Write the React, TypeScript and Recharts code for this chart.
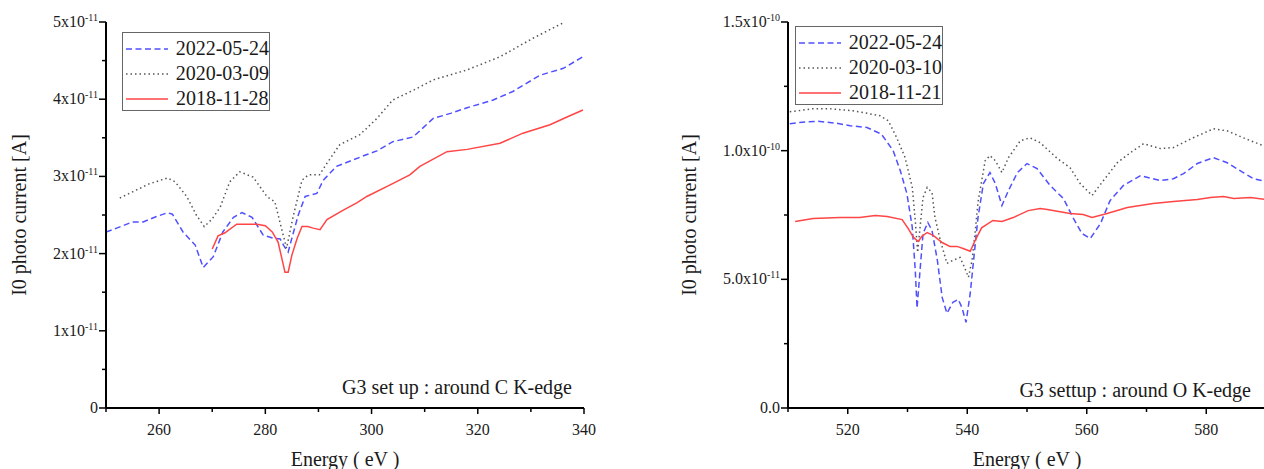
import { LineChart, Line, XAxis, YAxis } from "recharts";

const FONT = "'Liberation Serif', 'Times New Roman', serif";
const INK = "#1a1a1a";

// energy (eV), I0 photo current in units of 1e-11 A
const cBlue: [number, number][] = [
  [250, 2.28], [252, 2.33], [255, 2.41], [257, 2.41], [259.5, 2.48], [261.6, 2.53], [262.5, 2.51],
  [264.5, 2.28], [266.8, 2.11], [268.3, 1.82], [270.2, 1.96], [272, 2.28], [274, 2.47], [275.6, 2.53],
  [277.5, 2.47], [279.6, 2.24], [281.5, 2.2], [282.8, 2.19], [283.5, 2.1], [284.3, 2.02], [285, 2.2],
  [286.2, 2.5], [287.5, 2.74], [289.7, 2.78], [290.9, 2.95], [293.4, 3.13], [296, 3.2], [299, 3.28],
  [301, 3.33], [304, 3.45], [307.8, 3.51], [311.6, 3.75], [315, 3.82], [318, 3.89], [322.9, 3.99],
  [326.6, 4.1], [331.7, 4.31], [336.1, 4.4], [339.8, 4.55],
];
const cGray: [number, number][] = [
  [252.6, 2.72], [255, 2.8], [258, 2.9], [261.6, 2.98], [263, 2.93], [265.2, 2.74], [267, 2.5],
  [268.5, 2.35], [270, 2.45], [271.5, 2.6], [273.3, 2.93], [275.2, 3.06], [277.7, 2.99], [280.3, 2.74],
  [281.8, 2.67], [283.1, 2.31], [284, 2.07], [285.2, 2.47], [286.9, 2.95], [288.1, 3.02], [290.2, 3.02],
  [291.6, 3.17], [294, 3.41], [297.8, 3.54], [301, 3.75], [304, 3.99], [308, 4.12], [311.6, 4.25],
  [318, 4.38], [324.2, 4.55], [330.4, 4.79], [336.1, 4.99],
];
const cRed: [number, number][] = [
  [270, 2.06], [271.1, 2.23], [272.4, 2.27], [274.6, 2.38], [278.4, 2.38], [280, 2.36], [281.3, 2.28],
  [282.4, 2.15], [283.3, 1.88], [283.7, 1.76], [284.3, 1.76], [285, 1.98], [286, 2.2], [286.9, 2.35],
  [288, 2.35], [289, 2.33], [290.3, 2.31], [291.6, 2.44], [294.6, 2.56], [297.3, 2.66], [299.1, 2.74],
  [303.5, 2.89], [307.2, 3.02], [309.1, 3.13], [314.2, 3.32], [318, 3.35], [324.2, 3.43], [328.5, 3.56],
  [333.6, 3.67], [336.8, 3.77], [339.8, 3.86],
];

const oBlue: [number, number][] = [
  [510.3, 11.05], [513, 11.12], [515, 11.14], [518, 11.07], [520.4, 10.97], [523.2, 10.9], [525.6, 10.65],
  [527.6, 10.0], [528.8, 9.22], [529.9, 8.33], [530.8, 7.02], [531.3, 5.35], [531.6, 3.88], [532.1, 5.35],
  [532.6, 6.78], [533.4, 7.21], [534.1, 6.9], [535, 5.74], [535.8, 4.3], [536.6, 3.68], [537.6, 4.11],
  [538.5, 4.22], [539.1, 3.91], [539.8, 3.33], [540.5, 4.46], [541, 5.6], [541.8, 7.4], [542.7, 8.72],
  [543.8, 9.15], [544.7, 8.72], [545.8, 7.87], [546.9, 8.45], [548.4, 9.15], [550, 9.5], [551.7, 9.3],
  [553.9, 8.64], [556.1, 8.14], [557.7, 7.4], [559.2, 6.78], [560.6, 6.59], [562.3, 7.17], [563.9, 8.06],
  [566.1, 8.64], [569, 9.03], [572.3, 8.84], [574.5, 8.91], [576.2, 9.11], [578.5, 9.5], [581.2, 9.73],
  [583.5, 9.53], [586.2, 9.15], [587.9, 8.91], [590, 8.8],
];
const oGray: [number, number][] = [
  [510.3, 11.51], [514.2, 11.63], [517, 11.63], [520.9, 11.55], [525.4, 11.36], [526.8, 11.16],
  [528.2, 10.5], [529.6, 9.73], [530.8, 8.57], [531.3, 7.29], [531.7, 6.05], [532.1, 7.02], [532.6, 8.18],
  [533.3, 8.57], [534.1, 8.37], [534.6, 7.4], [535.5, 6.51], [536.6, 5.62], [537.6, 5.74], [538.8, 5.85],
  [539.6, 5.43], [540.2, 5.08], [540.8, 5.74], [541.3, 6.78], [541.8, 8.0], [543, 9.61], [543.8, 9.81],
  [544.7, 9.61], [545.8, 9.15], [546.9, 9.73], [548.9, 10.39], [550.5, 10.5], [552.2, 10.31],
  [555.1, 9.69], [557.2, 9.34], [558.9, 8.72], [560.9, 8.26], [562.8, 8.84], [565.1, 9.53], [567.3, 9.92],
  [569.5, 10.27], [572.3, 10.08], [574.5, 10.12], [577.8, 10.5], [581.2, 10.85], [583.5, 10.77],
  [586.2, 10.5], [590, 10.15],
];
const oRed: [number, number][] = [
  [511.2, 7.25], [514.2, 7.36], [518.7, 7.4], [522, 7.4], [524.6, 7.48], [526.6, 7.44], [529.1, 7.32],
  [530.1, 6.98], [531, 6.63], [531.8, 6.47], [532.4, 6.67], [533.3, 6.82], [534.3, 6.71], [535.8, 6.43],
  [537.1, 6.28], [538.3, 6.28], [539.3, 6.2], [540.5, 6.09], [541.2, 6.45], [542.4, 7.0], [544.3, 7.29],
  [545.8, 7.25], [547.7, 7.4], [550.2, 7.67], [552.2, 7.75], [553.4, 7.71], [557.2, 7.56], [559.4, 7.52],
  [560.9, 7.4], [563.4, 7.56], [566.8, 7.79], [571.1, 7.95], [574.5, 8.02], [578.5, 8.1], [580.7, 8.18],
  [582.9, 8.22], [584.6, 8.14], [587.4, 8.18], [590, 8.1],
];

const cXTicks = [250, 260, 270, 280, 290, 300, 310, 320, 330, 340];
const cXLabels = [260, 280, 300, 320, 340];
const cYTicks = [0, 0.5, 1, 1.5, 2, 2.5, 3, 3.5, 4, 4.5, 5];
const cYLabels: [number, string, string][] = [
  [0, "0", ""], [1, "1x10", "-11"], [2, "2x10", "-11"], [3, "3x10", "-11"], [4, "4x10", "-11"], [5, "5x10", "-11"],
];

const oXTicks = [510, 520, 530, 540, 550, 560, 570, 580, 590];
const oXLabels = [520, 540, 560, 580];
const oYTicks = [0, 2.5, 5, 7.5, 10, 12.5, 15];
const oYLabels: [number, string, string][] = [
  [0, "0.0", ""], [5, "5.0x10", "-11"], [10, "1.0x10", "-10"], [15, "1.5x10", "-10"],
];

const cNames = ["2022-05-24", "2020-03-09", "2018-11-28"];
const oNames = ["2022-05-24", "2020-03-10", "2018-11-21"];

const styles = [
  { stroke: "#5050ff", dash: "6 3.5" },
  { stroke: "#555555", dash: "1.5 3" },
  { stroke: "#ff4545", dash: undefined as string | undefined },
];

const toRows = (pts: [number, number][]) => pts.map(([e, v]) => ({ e, v }));

function XTick({ x, y, payload, labels }: any) {
  const major = labels.includes(payload.value);
  return (
    <g>
      <line x1={x} x2={x} y1={y} y2={y + (major ? 6 : 4)} stroke="#000" strokeWidth={1.5} />
      {major && (
        <text x={x} y={y + 27} textAnchor="middle" fontSize={16} fill={INK} fontFamily={FONT}>
          {payload.value}
        </text>
      )}
    </g>
  );
}

function YTick({ x, y, payload, labels }: any) {
  const lab = labels.find((l: [number, string, string]) => Math.abs(l[0] - payload.value) < 1e-9);
  return (
    <g>
      <line x1={x - (lab ? 7 : 4)} x2={x} y1={y} y2={y} stroke="#000" strokeWidth={1.5} />
      {lab && (
        <text x={x - 8} y={y + 5} textAnchor="end" fontSize={16} fill={INK} fontFamily={FONT}>
          <tspan>{lab[1]}</tspan>
          {lab[2] && (
            <tspan dy={-6} fontSize={10}>
              {lab[2]}
            </tspan>
          )}
        </text>
      )}
    </g>
  );
}

function Panel(props: {
  left: number;
  yWidth: number;
  right: number;
  series: [number, number][][];
  names: string[];
  xDomain: [number, number];
  xTicks: number[];
  xLabels: number[];
  yDomain: [number, number];
  yTicks: number[];
  yLabels: [number, string, string][];
  legend: { left: number; top: number };
  note: string;
  noteRight: number;
  noteTop: number;
  titleX: number;
}) {
  const W = 600;
  const H = 469;
  const plotCx = props.yWidth + (W - props.yWidth - props.right) / 2;
  return (
    <div style={{ position: "absolute", left: props.left, top: 0, width: W, height: H }}>
      <LineChart width={W} height={H} margin={{ top: 22, right: props.right, bottom: 0, left: 0 }}>
        <XAxis
          dataKey="e"
          type="number"
          domain={props.xDomain}
          ticks={props.xTicks}
          interval={0}
          allowDataOverflow
          height={61}
          axisLine={{ stroke: "#000", strokeWidth: 2 }}
          tickLine={false}
          tickSize={0}
          tickMargin={0}
          tick={(p: any) => <XTick {...p} labels={props.xLabels} />}
        />
        <YAxis
          type="number"
          domain={props.yDomain}
          ticks={props.yTicks}
          interval={0}
          allowDataOverflow
          width={props.yWidth}
          axisLine={{ stroke: "#000", strokeWidth: 2 }}
          tickLine={false}
          tickSize={0}
          tickMargin={0}
          tick={(p: any) => <YTick {...p} labels={props.yLabels} />}
        />
        {props.series.map((s, i) => (
          <Line
            key={props.names[i]}
            data={toRows(s)}
            dataKey="v"
            name={props.names[i]}
            type="linear"
            stroke={styles[i].stroke}
            strokeDasharray={styles[i].dash}
            strokeWidth={1.5}
            dot={false}
            activeDot={false}
            isAnimationActive={false}
          />
        ))}
      </LineChart>
      <div
        style={{
          position: "absolute",
          left: props.titleX,
          top: 215,
          transform: "translate(-50%, -50%) rotate(-90deg)",
          fontFamily: FONT,
          fontSize: 20,
          color: INK,
          whiteSpace: "nowrap",
        }}
      >
        I0 photo current [A]
      </div>
      <div
        style={{
          position: "absolute",
          left: plotCx,
          top: 449,
          transform: "translateX(-50%)",
          fontFamily: FONT,
          fontSize: 20,
          lineHeight: "20px",
          color: INK,
          whiteSpace: "nowrap",
        }}
      >
        Energy ( eV )
      </div>
      <div
        style={{
          position: "absolute",
          right: W - props.noteRight,
          top: props.noteTop,
          fontFamily: FONT,
          fontSize: 20,
          lineHeight: "20px",
          color: INK,
          whiteSpace: "nowrap",
        }}
      >
        {props.note}
      </div>
      <div
        style={{
          position: "absolute",
          left: props.legend.left,
          top: props.legend.top,
          width: 146,
          height: 74,
          border: "1px solid #666",
          paddingTop: 3,
          boxSizing: "content-box",
          background: "#fff",
        }}
      >
        {props.names.map((n, i) => (
          <div key={n} style={{ display: "flex", alignItems: "center", height: 25 }}>
            <svg width={42} height={4} style={{ marginLeft: 3, marginRight: 8 }}>
              <line x1={0} x2={42} y1={2} y2={2} stroke={styles[i].stroke} strokeWidth={1.5} strokeDasharray={styles[i].dash} />
            </svg>
            <span style={{ fontFamily: FONT, fontSize: 20, color: INK, whiteSpace: "nowrap" }}>{n}</span>
          </div>
        ))}
      </div>
    </div>
  );
}

export default function App() {
  return (
    <div style={{ position: "absolute", left: 0, top: 0, width: 1264, height: 469, overflow: "hidden", background: "#fff" }}>
      <Panel
        left={0}
        yWidth={106}
        right={16}
        series={[cBlue, cGray, cRed]}
        names={cNames}
        xDomain={[250, 340]}
        xTicks={cXTicks}
        xLabels={cXLabels}
        yDomain={[0, 5]}
        yTicks={cYTicks}
        yLabels={cYLabels}
        legend={{ left: 122, top: 32 }}
        note="G3 set up : around C K-edge"
        noteRight={572}
        noteTop={377}
        titleX={19}
      />
      <Panel
        left={680}
        yWidth={108}
        right={14}
        series={[oBlue, oGray, oRed]}
        names={oNames}
        xDomain={[510, 590]}
        xTicks={oXTicks}
        xLabels={oXLabels}
        yDomain={[0, 15]}
        yTicks={oYTicks}
        yLabels={oYLabels}
        legend={{ left: 115, top: 26 }}
        note="G3 settup : around O K-edge"
        noteRight={571}
        noteTop={380}
        titleX={9}
      />
    </div>
  );
}
